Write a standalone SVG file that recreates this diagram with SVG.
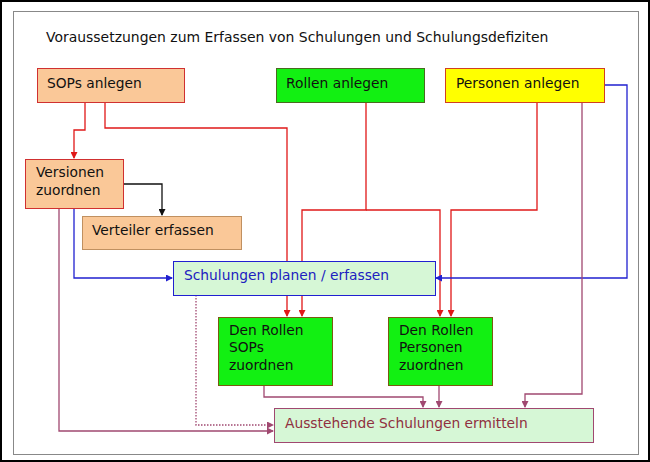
<svg xmlns="http://www.w3.org/2000/svg" width="650" height="462" viewBox="0 0 650 462">
<defs>
<style>
text{font-family:"DejaVu Sans","Liberation Sans",sans-serif;font-size:13.8px;fill:#111}
.peach{fill:#fac898;stroke:#d03030;stroke-width:1}
.green{fill:#12f012;stroke:#7a5a10;stroke-width:1}
.light{fill:#d6f7d6;stroke-width:1}
.c{fill:none;stroke-width:1.3}
.red{stroke:#e01818}
.blue{stroke:#2020d0}
.mauve{stroke:#a04870}
.black{stroke:#111}
</style>
<marker id="aR" markerWidth="7" markerHeight="7" refX="6" refY="3.5" orient="auto" markerUnits="userSpaceOnUse"><path d="M0,0 L7,3.5 L0,7 Z" fill="#e01818"/></marker>
<marker id="aB" markerWidth="7" markerHeight="7" refX="6" refY="3.5" orient="auto" markerUnits="userSpaceOnUse"><path d="M0,0 L7,3.5 L0,7 Z" fill="#2020d0"/></marker>
<marker id="aM" markerWidth="7" markerHeight="7" refX="6" refY="3.5" orient="auto" markerUnits="userSpaceOnUse"><path d="M0,0 L7,3.5 L0,7 Z" fill="#a04870"/></marker>
<marker id="aK" markerWidth="7" markerHeight="7" refX="6" refY="3.5" orient="auto" markerUnits="userSpaceOnUse"><path d="M0,0 L7,3.5 L0,7 Z" fill="#111"/></marker>
</defs>
<rect x="0" y="0" width="650" height="462" fill="#fff"/>
<rect x="1" y="1" width="648" height="460" fill="none" stroke="#000" stroke-width="2"/>
<rect x="13.5" y="11.5" width="625" height="443" fill="#fff" stroke="#888" stroke-width="1"/>
<text x="46" y="42" style="font-size:13.95px">Voraussetzungen zum Erfassen von Schulungen und Schulungsdefiziten</text>

<g id="connectors">
<path class="c red" d="M85,102 V130 H74 V158" marker-end="url(#aR)"/>
<path class="c red" d="M105,102 V128 H287 V316" marker-end="url(#aR)"/>
<path class="c red" d="M366,102 V210 H302 V316" marker-end="url(#aR)"/>
<path class="c red" d="M366,210 H440 V316" marker-end="url(#aR)"/>
<path class="c red" d="M537,102 V210 H451 V316" marker-end="url(#aR)"/>
<path class="c blue" d="M604,85 H627 V278 H436" marker-end="url(#aB)"/>
<path class="c mauve" d="M582,102 V394 H525 V407" marker-end="url(#aM)"/>
<path class="c black" d="M123,184 H162 V215" marker-end="url(#aK)"/>
<path class="c blue" d="M74,208 V278 H172" marker-end="url(#aB)"/>
<path class="c mauve" d="M59,208 V431 H273" marker-end="url(#aM)"/>
<path class="c mauve" d="M196,295 V425 H273" stroke-dasharray="1.5,1.5" marker-end="url(#aM)"/>
<path class="c mauve" d="M264,385 V397 H423 V407" marker-end="url(#aM)"/>
<path class="c mauve" d="M439,385 V407" marker-end="url(#aM)"/>
</g>

<g id="sops-anlegen"><rect class="peach" x="37.5" y="68.5" width="147" height="34"/><text x="47" y="88">SOPs anlegen</text></g>
<g id="rollen-anlegen"><rect class="green" x="276.5" y="68.5" width="148" height="34" style="stroke:#4a6a20"/><text x="286" y="88">Rollen anlegen</text></g>
<g id="personen-anlegen"><rect x="445.5" y="68.5" width="159" height="34" fill="#ffff00" stroke="#d04020"/><text x="456" y="88">Personen anlegen</text></g>
<g id="versionen-zuordnen"><rect class="peach" x="25.5" y="159.5" width="98" height="49"/><text x="36" y="177">Versionen</text><text x="36" y="195">zuordnen</text></g>
<g id="verteiler-erfassen"><rect class="peach" x="82.5" y="216.5" width="159" height="33" style="stroke:#c09060"/><text x="92" y="235">Verteiler erfassen</text></g>
<g id="schulungen-planen"><rect class="light" x="173.5" y="261.5" width="262" height="34" stroke="#2020d0"/><text x="184" y="280" style="fill:#2020c0">Schulungen planen / erfassen</text></g>
<g id="rollen-sops"><rect class="green" x="218.5" y="317.5" width="114" height="68"/><text x="229" y="335">Den Rollen</text><text x="229" y="352">SOPs</text><text x="229" y="370">zuordnen</text></g>
<g id="rollen-personen"><rect class="green" x="388.5" y="317.5" width="104" height="68"/><text x="399" y="335">Den Rollen</text><text x="399" y="352">Personen</text><text x="399" y="370">zuordnen</text></g>
<g id="ausstehende"><rect class="light" x="274.5" y="408.5" width="319" height="34" stroke="#a04870"/><text x="285" y="428" style="fill:#903040">Ausstehende Schulungen ermitteln</text></g>
</svg>
